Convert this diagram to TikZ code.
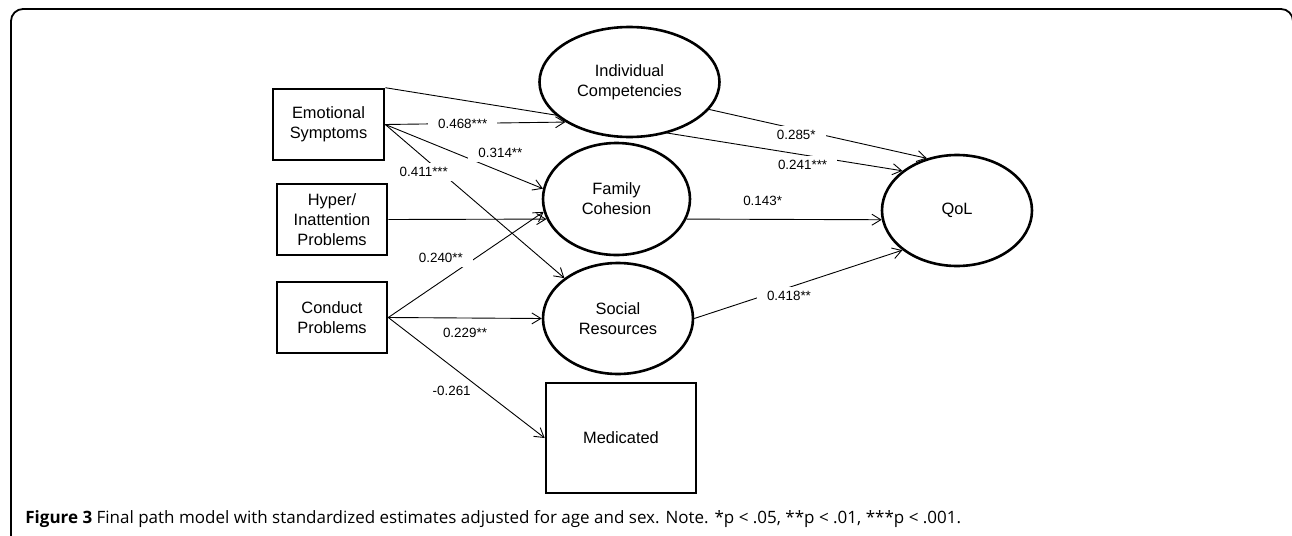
\documentclass[tikz,border=0pt]{standalone}
\usepackage{fontspec}
\setmainfont{Liberation Sans}
\newfontfamily\capfont{Open Sans}
\usetikzlibrary{shapes.geometric,arrows.meta,backgrounds}

\begin{document}
\begin{tikzpicture}[x=0.5pt,y=-0.5pt,
  obsbox/.style={draw,line width=1.3pt,align=center,inner sep=0pt,font=\fontsize{8.2}{10}\selectfont},
  latent/.style={draw,ellipse,fill=white,line width=1.3pt,align=center,inner sep=0pt,font=\fontsize{8.2}{10}\selectfont},
  arr/.style={line width=0.45pt,-{Straight Barb[length=4.5pt,width=5.5pt]}},
  coef/.style={font=\fontsize{6.7}{8}\selectfont,inner sep=1pt},
  gapfill/.style={fill=white,inner xsep=5pt,inner ysep=2pt}]
\useasboundingbox (0,0) rectangle (1292,536);
\draw [line width=0.9pt, rounded corners=6pt] (11,545) -- (11,9) -- (1293,9) -- (1293,545);

\node[obsbox,minimum width=55.5pt,minimum height=35.5pt] (ES) at (328.5,124.5) {Emotional\\Symptoms};
\node[obsbox,minimum width=55pt,minimum height=35.5pt] (HIP) at (332,219.5) {Hyper/\\Inattention\\Problems};
\node[obsbox,minimum width=55pt,minimum height=35.5pt] (CP) at (332,317.5) {Conduct\\Problems};
\node[obsbox,minimum width=75pt,minimum height=55pt] (Med) at (621,438) {Medicated};
\node[latent,minimum width=90pt,minimum height=55pt] (IC) at (629.5,82) {Individual\\Competencies};
\node[latent,minimum width=73.5pt,minimum height=56pt] (FC) at (616.5,199) {Family\\Cohesion};
\node[latent,minimum width=75pt,minimum height=55.5pt] (SR) at (618,318.5) {Social\\Resources};
\node[latent,minimum width=75pt,minimum height=55.5pt] (QoL) at (957,210.5) {QoL};

\begin{scope}[on background layer]
\draw [arr] (ES.north east) -- node[coef,gapfill,pos=.807,yshift=-4.8pt] {0.241***} (QoL.144);
\end{scope}
\draw [arr] (ES.east) -- node[coef,gapfill,pos=.43] {0.468***} (IC.212);
\draw [arr] (ES.east) -- node[coef,gapfill,pos=.62,xshift=8.7pt,yshift=5.5pt] {0.314**} (FC.172);
\draw [arr] (ES.east) -- node[coef,gapfill,pos=.31,xshift=-8.5pt] {0.411***} (SR.143);
\draw [arr] (HIP.east) -- (FC.196);
\draw [arr] (CP.east) -- node[coef,gapfill,pos=.564,xshift=-17.5pt] {0.240**} (FC.190);
\draw [arr] (CP.east) -- node[coef,pos=.5,yshift=-7.5pt] {0.229**} (SR.west);
\draw [arr] (CP.east) -- node[coef,pos=.61,xshift=-16pt] {-0.261} (Med.west);
\draw [arr] (IC.341) -- node[coef,gapfill,pos=.4,yshift=-3pt] {0.285*} (QoL.120);
\draw [arr] (FC.344) -- node[coef,pos=.39,yshift=9pt] {0.143*} (QoL.187);
\draw [arr] (SR.east) -- node[coef,gapfill,pos=.455,yshift=-4pt] {0.418**} (QoL.216);

\node[anchor=base west,inner sep=0pt,font=\capfont\fontsize{8.5}{10}\selectfont] (cap) at (25,523) {\textbf{Figure 3} Final path model with standardized estimates adjusted for age and sex. Note. *p < .05, **p < .01, ***p < .001.};
\end{tikzpicture}
\end{document}
